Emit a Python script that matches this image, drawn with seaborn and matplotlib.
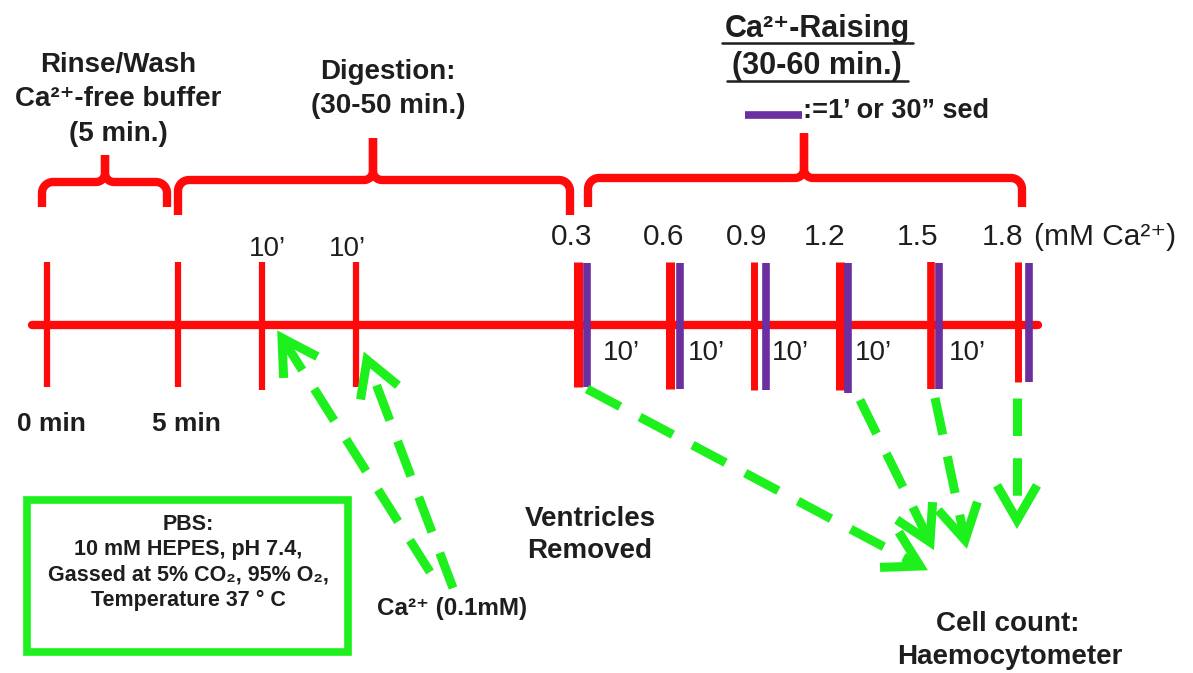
import numpy as np
import matplotlib.pyplot as plt
import seaborn as sns
from matplotlib.patches import Rectangle

# canvas is in pixels: x to the right, y downwards
W, H = 1193, 673

RED = "#FF0A0A"
PURPLE = "#6B2FA0"
GREEN = "#1EF01E"
INK = "#1E1E1E"

# main timeline
line_x = [32, 1038]
line_y = 325

# early marks: 0 min, 5 min, two digestion checks
early_ticks = [47, 178, 262, 356]
early_bottom = [387, 387, 390, 387]
start_labels = ["0 min", "5 min"]
start_label_x = [51, 186]
digest_check_labels = ["10\u2019", "10\u2019"]
digest_check_x = [267, 347]

# Ca2+ raising steps
ca_ticks = [578, 670, 754, 840, 931, 1018]
ca_tick_w = [6.5, 6.5, 5.0, 6.5, 5.5, 5.0]
ca_bottom = [387, 389, 390, 390, 389, 382]
sed_bars = [587, 680, 766, 848, 939, 1029]
sed_bottom = [387, 389, 390, 393, 389, 382]
ca_conc = ["0.3", "0.6", "0.9", "1.2", "1.5", "1.8"]
ca_conc_x = [572, 664, 747, 825, 918, 1002]
step_labels = ["10\u2019"] * 5
step_label_x = [621, 706, 790, 873, 967]

# braces: (left, right, nib, horizontal y, end y, nib top y)
braces = [
    (42, 167, 105, 182, 207, 155),
    (178, 570, 373, 180, 215, 138),
    (588, 1022, 804, 178, 207, 133),
]

# dashed green arrows: (tail, tip)
arrows = [
    ((430, 572), (282, 338)),
    ((453, 588), (367, 360)),
    ((587, 389), (920, 566)),
    ((860, 400), (930, 542)),
    ((935, 398), (965, 540)),
    ((1017, 398), (1017, 520)),
]

sns.set_theme(style="white")
plt.rcParams["font.family"] = ["Liberation Sans", "DejaVu Sans"]
plt.rcParams["lines.scale_dashes"] = False

fig = plt.figure(figsize=(W / 100, H / 100), dpi=100)
ax = fig.add_axes([0, 0, 1, 1])
ax.set_xlim(0, W)
ax.set_ylim(H, 0)
ax.axis("off")


def brace(ax, x0, x1, xc, yh, yend, ypk, r=11, r2=9):
    th = np.linspace(np.pi, 1.5 * np.pi, 12)
    left = [(x0, yend)] + list(zip(x0 + r + r * np.cos(th), yh + r + r * np.sin(th)))
    th = np.linspace(0.5 * np.pi, 0, 12)
    left += list(zip(xc - r2 + r2 * np.cos(th), yh - r2 + r2 * np.sin(th))) + [(xc, ypk)]
    th = np.linspace(0, -0.5 * np.pi, 12)
    right = [(x1, yend)] + list(zip(x1 - r + r * np.cos(th), yh + r + r * np.sin(th)))
    th = np.linspace(0.5 * np.pi, np.pi, 12)
    right += list(zip(xc + r2 + r2 * np.cos(th), yh - r2 + r2 * np.sin(th))) + [(xc, ypk)]
    for pts in (left, right):
        pts = np.array(pts)
        ax.plot(pts[:, 0], pts[:, 1], color=RED, lw=6, solid_joinstyle="round",
                solid_capstyle="butt")


def dashed_arrow(ax, tail, tip, head=40, ang=30):
    tail, tip = np.array(tail, float), np.array(tip, float)
    u = (tip - tail) / np.linalg.norm(tip - tail)
    ax.plot([tail[0], tip[0] - 6 * u[0]], [tail[1], tip[1] - 6 * u[1]], color=GREEN, lw=6.5,
            linestyle=(0, (27, 16)), dash_capstyle="butt")
    a = np.deg2rad(ang)
    arms = []
    for s in (1, -1):
        c, sn = np.cos(s * a), np.sin(s * a)
        v = np.array([c * -u[0] - sn * -u[1], sn * -u[0] + c * -u[1]])
        arms.append(tip + head * v)
    pts = np.array([arms[0], tip, arms[1]])
    ax.plot(pts[:, 0], pts[:, 1], color=GREEN, lw=6.5, solid_joinstyle="miter",
            solid_capstyle="butt")


# timeline
sns.lineplot(x=line_x, y=[line_y, line_y], color=RED, lw=6, ax=ax, legend=False)
ax.vlines(early_ticks, 262, early_bottom, color=RED, lw=4.5)
ax.vlines(ca_ticks, 262, ca_bottom, color=RED, lw=ca_tick_w)
ax.vlines(sed_bars, 263, sed_bottom, color=PURPLE, lw=5.5)

for b in braces:
    brace(ax, *b)

for tail, tip in arrows:
    dashed_arrow(ax, tail, tip)

ax.add_patch(Rectangle((27, 500), 321, 152, fill=False, ec=GREEN, lw=5.5))

# labels on the timeline
for s, x in zip(digest_check_labels, digest_check_x):
    ax.text(x, 249, s, ha="center", va="center", fontsize=20, color=INK)
for s, x in zip(ca_conc, ca_conc_x):
    ax.text(x, 237, s, ha="center", va="center", fontsize=21.5, color=INK)
ax.text(1034, 237, "(mM Ca\u00b2\u207a)", ha="left", va="center", fontsize=21.5, color=INK)
for s, x in zip(step_labels, step_label_x):
    ax.text(x, 353, s, ha="center", va="center", fontsize=20, color=INK)
for s, x in zip(start_labels, start_label_x):
    ax.text(x, 424, s, ha="center", va="center", fontsize=19, fontweight="bold", color=INK)

bold = dict(ha="center", va="center", fontweight="bold", color=INK)
ax.text(118, 65, "Rinse/Wash", fontsize=20, **bold)
ax.text(118, 99, "Ca\u00b2\u207a-free buffer", fontsize=20, **bold)
ax.text(118, 134, "(5 min.)", fontsize=20, **bold)
ax.text(388, 72, "Digestion:", fontsize=20, **bold)
ax.text(388, 106, "(30-50 min.)", fontsize=20, **bold)

ax.text(817, 37, "Ca\u00b2\u207a-Raising", ha="center", va="baseline", fontsize=22,
        fontweight="bold", color=INK)
ax.text(817, 74, "(30-60 min.)", ha="center", va="baseline", fontsize=22,
        fontweight="bold", color=INK)
ax.plot([722, 913], [43, 43], color=INK, lw=1.8)
ax.plot([727, 908], [81, 81], color=INK, lw=1.8)
ax.plot([745, 802], [115, 115], color=PURPLE, lw=5.5, solid_capstyle="butt")
ax.text(803, 111, ":=1\u2019 or 30\u201d sed", ha="left", va="center", fontsize=19.5,
        fontweight="bold", color=INK)

ax.text(590, 519, "Ventricles", fontsize=20, **bold)
ax.text(590, 551, "Removed", fontsize=20, **bold)
ax.text(452, 609, "Ca\u00b2\u207a (0.1mM)", fontsize=17.5, **bold)
ax.text(1008, 624, "Cell count:", fontsize=20, **bold)
ax.text(1010, 657, "Haemocytometer", fontsize=20, **bold)

box_lines = ["PBS:", "10 mM HEPES, pH 7.4,",
             "Gassed at 5% CO\u2082, 95% O\u2082,",
             "Temperature 37 \u00b0 C"]
for i, s in enumerate(box_lines):
    ax.text(188, 524 + 25.5 * i, s, fontsize=15.5, **bold)

fig.savefig("out.png", dpi=100)
